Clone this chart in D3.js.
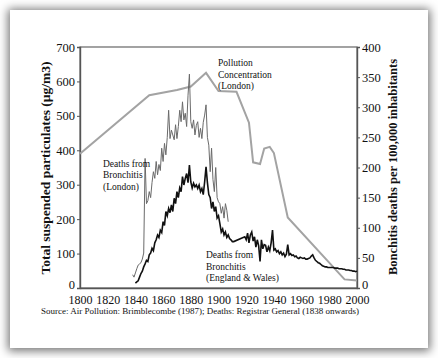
<!DOCTYPE html>
<html>
<head>
<meta charset="utf-8">
<script src="https://cdn.jsdelivr.net/npm/d3@7"></script>
<style>
  html, body { margin: 0; padding: 0; background: #ffffff; width: 438px; height: 358px; overflow: hidden; }
  #card { position: absolute; left: 10px; top: 10px; width: 418px; height: 338px; background: #fff;
          box-shadow: 0 1px 9px 2px rgba(0,0,0,0.55); }
  svg { position: absolute; left: 0; top: 0; }
  text { font-family: "Liberation Serif", "DejaVu Serif", serif; fill: #111; }
</style>
</head>
<body>
<div id="card"></div>
<svg id="chart" width="438" height="358"></svg>
<script>
// ---- Data ----
const xTicks = [1800, 1820, 1840, 1860, 1880, 1900, 1920, 1940, 1960, 1980, 2000];
const leftTicks = [0, 100, 200, 300, 400, 500, 600, 700];
const rightTicks = [0, 50, 100, 150, 200, 250, 300, 350, 400];

// Pollution concentration, London (µg/m3, left axis)
const pollutionYears  = [1800, 1850, 1870, 1880, 1891, 1900, 1913, 1922, 1925, 1930, 1933, 1937, 1940, 1950, 1991, 2000];
const pollutionValues = [390, 560, 575, 585, 625, 572, 570, 480, 365, 360, 405, 410, 392, 205, 25, 22];

// Deaths from bronchitis, London (per 100,000, right axis), yearly from 1838
const londonStart = 1838;
const londonDeaths = [
  22, 18, 25, 32, 38, 40, 42, 48, 58, 215,   // 1838-1847
  140, 145, 160, 150, 175, 193, 182, 210, 188, 205, // 1848-1857
  195, 232, 210, 240, 221, 250, 295, 248, 262, 254, // 1858-1867
  246, 271, 248, 268, 295, 276, 309, 279, 290, 268, // 1868-1877
  320, 355, 276, 265, 279, 254, 270, 276, 250, 265, // 1878-1887
  248, 275, 287, 304, 250, 237, 193, 232, 180, 160, // 1888-1897
  200, 150, 143, 140, 124, 135, 116, 140, 129, 110  // 1898-1907
];

// Deaths from bronchitis, England & Wales (per 100,000, right axis), yearly from 1840 (null = no data)
const ewStart = 1840;
const ewDeaths = [
  8, 10, 12, 18, 24, 28, 35, 40, 46, 44,            // 1840-1849
  55, 58, 66, 62, 75, 80, 88, 84, 96, 92,           // 1850-1859
  110, 104, 127, 120, 132, 125, 138, 127, 149, 140, // 1860-1869
  160, 150, 166, 160, 185, 171, 182, 190, 175, 204, // 1870-1879
  176, 166, 174, 168, 171, 165, 171, 160, 165, 155, // 1880-1889
  176, 201, 175, 155, 150, 132, 143, 127, 135, 116, // 1890-1899
  120, 107, 93, 98, 88, 93, 84, 88, 82, 80,         // 1900-1909
  77, 77, null, null, null, null, null, null, null, 85, // 1910-1919
  80, 91, 75, 88, 93, 78, 85, 68, 80, 70,           // 1920-1929
  44, 80, 65, 72, 71, 60, 68, 62, 75, 96,           // 1930-1939
  63, 65, 60, 62, 57, 60, 55, 58, 52, 56,           // 1940-1949
  72, 55, 57, 54, 55, 52, 53, 50, 49, 51,           // 1950-1959
  50, 49, 50, 48, 48, 49, 50, 53, 55, 50,           // 1960-1969
  46, 44, 42, 41, 39, 37, 36, 35, 35, 34,           // 1970-1979
  34, 34, 34, 34, 33, 33, 33, 32, 32, 32,           // 1980-1989
  31, 31, 30, 30, 30, 29, 29, 28, 28, 27, 28        // 1990-2000
];

// ---- Chart ----
const SERIF = "Liberation Serif";
const svg = d3.select("#chart");
const x = d3.scaleLinear().domain([1800, 2000]).range([80, 357]);
const yL = d3.scaleLinear().domain([0, 700]).range([288, 47]);
const yR = d3.scaleLinear().domain([0, 400]).range([288, 47]);

// frame
svg.append("rect").attr("x", 80).attr("y", 47).attr("width", 277).attr("height", 241)
  .attr("fill", "none").attr("stroke", "#666").attr("stroke-width", 1.2);

// axes
const gx = svg.append("g").attr("transform", "translate(0,288)")
  .call(d3.axisBottom(x).tickValues(xTicks).tickFormat(d3.format("d")).tickSize(0).tickPadding(7.5));
const gl = svg.append("g").attr("transform", "translate(80,0)")
  .call(d3.axisLeft(yL).tickValues(leftTicks).tickSize(3).tickPadding(2));
const gr = svg.append("g").attr("transform", "translate(357,0)")
  .call(d3.axisRight(yR).tickValues(rightTicks).tickSize(3).tickPadding(2));
[gx, gl, gr].forEach(g => {
  g.attr("font-family", SERIF);
  g.select(".domain").attr("stroke", "#555").attr("stroke-width", 1.4);
  g.selectAll(".tick line").attr("stroke", "#555");
  g.selectAll(".tick text").attr("font-family", SERIF).attr("font-size", 12.5).attr("fill", "#111");
});
gx.selectAll(".tick text").attr("font-size", 12);
// zero labels on the vertical axes sit slightly above the baseline, as in the reference
[gl, gr].forEach(g => g.selectAll(".tick").filter(d => d === 0).select("text").attr("dy", "0.05em"));

// lines
const pollution = pollutionYears.map((yr, i) => [yr, pollutionValues[i]]);
const london = londonDeaths.map((v, i) => [londonStart + i, v]);
const ew = ewDeaths.map((v, i) => [ewStart + i, v]).filter(d => d[1] !== null);

svg.append("path").datum(pollution)
  .attr("d", d3.line().x(d => x(d[0])).y(d => yL(d[1])))
  .attr("fill", "none").attr("stroke", "#a3a3a3").attr("stroke-width", 2);

svg.append("path").datum(london)
  .attr("d", d3.line().x(d => x(d[0])).y(d => yR(d[1])))
  .attr("fill", "none").attr("stroke", "#6a6a6a").attr("stroke-width", 1);

svg.append("path").datum(ew)
  .attr("d", d3.line().x(d => x(d[0])).y(d => yR(d[1])))
  .attr("fill", "none").attr("stroke", "#111").attr("stroke-width", 1.6);

// axis titles
svg.append("text").attr("transform", "translate(50,168) rotate(-90)")
  .attr("font-family", SERIF)
  .attr("text-anchor", "middle").attr("font-weight", "bold").attr("font-size", 13.5)
  .text("Total suspended particulates (µg/m3)");
svg.append("text").attr("transform", "translate(397,167) rotate(-90)")
  .attr("font-family", SERIF)
  .attr("text-anchor", "middle").attr("font-weight", "bold").attr("font-size", 12.5)
  .text("Bonchitis deaths per 100,000 inhabitants");

// source
svg.append("text").attr("x", 200).attr("y", 314).attr("text-anchor", "middle")
  .attr("font-family", SERIF).attr("font-size", 9)
  .text("Source: Air Pollution: Brimblecombe (1987); Deaths: Registrar General (1838 onwards)");

// annotations
function note(lines, x0, y0) {
  const t = svg.append("text").attr("font-family", SERIF).attr("font-size", 9.5).attr("fill", "#222");
  lines.forEach((l, i) => t.append("tspan").attr("x", x0).attr("y", y0 + i * 11.6).text(l));
}
note(["Pollution", "Concentration", "(London)"], 218, 66);
note(["Deaths from", "Bronchitis", "(London)"], 103, 166.5);
note(["Deaths from", "Bronchitis", "(England & Wales)"], 206, 258);
</script>
</body>
</html>
